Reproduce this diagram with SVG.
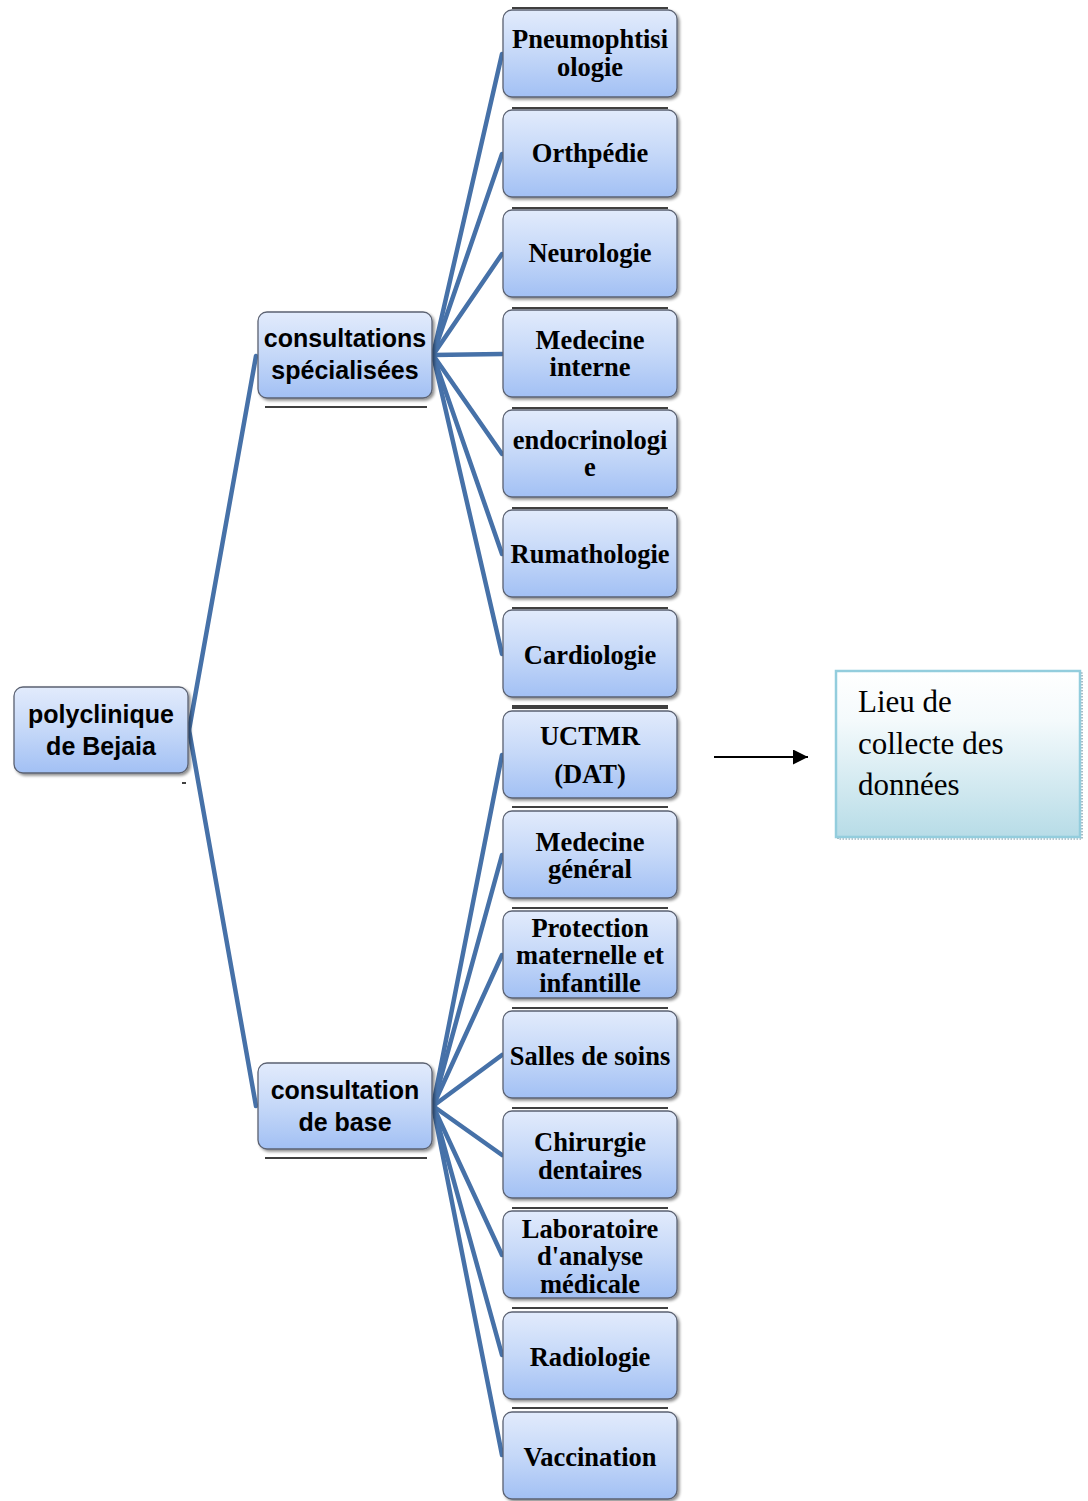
<svg xmlns="http://www.w3.org/2000/svg" width="1088" height="1501" viewBox="0 0 1088 1501">
<defs>
<linearGradient id="gb" x1="0" y1="0" x2="0" y2="1">
<stop offset="0" stop-color="#e2ebfc"/>
<stop offset="0.5" stop-color="#c5d8f8"/>
<stop offset="1" stop-color="#a2c0f4"/>
</linearGradient>
<linearGradient id="gc" x1="0" y1="0" x2="0" y2="1">
<stop offset="0" stop-color="#ffffff"/>
<stop offset="0.3" stop-color="#f4fafc"/>
<stop offset="1" stop-color="#b7dce7"/>
</linearGradient>
<filter id="sh" x="-10%" y="-10%" width="130%" height="130%">
<feGaussianBlur in="SourceAlpha" stdDeviation="1.5"/>
<feOffset dx="1.5" dy="2" result="o"/>
<feComponentTransfer><feFuncA type="linear" slope="0.45"/></feComponentTransfer>
<feMerge><feMergeNode/><feMergeNode in="SourceGraphic"/></feMerge>
</filter>
<marker id="ah" viewBox="0 0 10 10" refX="10" refY="5" markerWidth="16" markerHeight="15" markerUnits="userSpaceOnUse" orient="auto">
<path d="M0,0 L10,5 L0,10 z" fill="#000"/>
</marker>
</defs>
<style>
.box{fill:url(#gb);stroke:#5b6272;stroke-width:1.3;filter:url(#sh)}
.ts{font-family:"Liberation Serif","Times New Roman",serif;font-weight:bold;font-size:26.5px;fill:#000;text-anchor:middle}
.tn{font-family:"Liberation Sans",Arial,sans-serif;font-weight:bold;font-size:25px;fill:#000;text-anchor:middle}
.tc{font-family:"Liberation Serif","Times New Roman",serif;font-size:31px;fill:#000}
.bl{stroke:#000;stroke-width:1.5}
.cn{stroke:#4671a8;stroke-width:4.5;fill:none;stroke-linecap:round}
</style>
<rect width="1088" height="1501" fill="#fff"/>

<g id="rules">
<line class="bl" x1="512" y1="8" x2="668" y2="8"/>
<line class="bl" x1="512" y1="108" x2="668" y2="108"/>
<line class="bl" x1="512" y1="208" x2="668" y2="208"/>
<line class="bl" x1="512" y1="308" x2="668" y2="308"/>
<line class="bl" x1="512" y1="408" x2="668" y2="408"/>
<line class="bl" x1="512" y1="508" x2="668" y2="508"/>
<line class="bl" x1="512" y1="608" x2="668" y2="608"/>
<line class="bl" x1="512" y1="706" x2="668" y2="706"/>
<line class="bl" x1="512" y1="708" x2="668" y2="708"/>
<line class="bl" x1="512" y1="807" x2="668" y2="807" stroke-width="2.5"/>
<line class="bl" x1="512" y1="908" x2="668" y2="908"/>
<line class="bl" x1="512" y1="1008" x2="668" y2="1008"/>
<line class="bl" x1="512" y1="1108" x2="668" y2="1108"/>
<line class="bl" x1="512" y1="1208" x2="668" y2="1208"/>
<line class="bl" x1="512" y1="1308" x2="668" y2="1308"/>
<line class="bl" x1="512" y1="1408" x2="668" y2="1408"/>
<line class="bl" x1="265" y1="407" x2="427" y2="407"/>
<line class="bl" x1="265" y1="1158" x2="427" y2="1158"/>
<line class="bl" x1="182" y1="783" x2="186" y2="783" stroke-width="1"/>
</g>

<g id="connectors">
<line class="cn" x1="189" y1="730" x2="256" y2="356"/>
<line class="cn" x1="189" y1="730" x2="256" y2="1106"/>
<line class="cn" x1="433" y1="355" x2="502" y2="54"/>
<line class="cn" x1="433" y1="355" x2="502" y2="154"/>
<line class="cn" x1="433" y1="355" x2="502" y2="254"/>
<line class="cn" x1="433" y1="355" x2="502" y2="354"/>
<line class="cn" x1="433" y1="355" x2="502" y2="454"/>
<line class="cn" x1="433" y1="355" x2="502" y2="554"/>
<line class="cn" x1="433" y1="355" x2="502" y2="654"/>
<line class="cn" x1="433" y1="1106" x2="502" y2="755"/>
<line class="cn" x1="433" y1="1106" x2="502" y2="855"/>
<line class="cn" x1="433" y1="1106" x2="502" y2="955"/>
<line class="cn" x1="433" y1="1106" x2="502" y2="1055"/>
<line class="cn" x1="433" y1="1106" x2="502" y2="1155"/>
<line class="cn" x1="433" y1="1106" x2="502" y2="1255"/>
<line class="cn" x1="433" y1="1106" x2="502" y2="1355"/>
<line class="cn" x1="433" y1="1106" x2="502" y2="1455"/>
<line x1="714" y1="757" x2="808" y2="757" stroke="#000" stroke-width="1.8" marker-end="url(#ah)"/>
</g>

<g id="root">
<rect class="box" x="14" y="687" width="174" height="86" rx="9"/>
<text class="tn" x="101" y="723">polyclinique</text>
<text class="tn" x="101" y="755">de Bejaia</text>
</g>

<g id="specialisees">
<rect class="box" x="258" y="312" width="174" height="86" rx="9"/>
<text class="tn" x="345" y="347">consultations</text>
<text class="tn" x="345" y="379">spécialisées</text>
</g>

<g id="base">
<rect class="box" x="258" y="1063" width="174" height="86" rx="9"/>
<text class="tn" x="345" y="1099">consultation</text>
<text class="tn" x="345" y="1131">de base</text>
</g>

<g id="n1"><rect class="box" x="503" y="10" width="174" height="87" rx="9"/>
<text class="ts" x="590" y="48">Pneumophtisi</text><text class="ts" x="590" y="76">ologie</text></g>
<g id="n2"><rect class="box" x="503" y="110" width="174" height="87" rx="9"/>
<text class="ts" x="590" y="162">Orthpédie</text></g>
<g id="n3"><rect class="box" x="503" y="210" width="174" height="87" rx="9"/>
<text class="ts" x="590" y="262">Neurologie</text></g>
<g id="n4"><rect class="box" x="503" y="310" width="174" height="87" rx="9"/>
<text class="ts" x="590" y="349">Medecine</text><text class="ts" x="590" y="376">interne</text></g>
<g id="n5"><rect class="box" x="503" y="410" width="174" height="87" rx="9"/>
<text class="ts" x="590" y="449">endocrinologi</text><text class="ts" x="590" y="476">e</text></g>
<g id="n6"><rect class="box" x="503" y="510" width="174" height="87" rx="9"/>
<text class="ts" x="590" y="563">Rumathologie</text></g>
<g id="n7"><rect class="box" x="503" y="610" width="174" height="87" rx="9"/>
<text class="ts" x="590" y="664">Cardiologie</text></g>
<g id="n8"><rect class="box" x="503" y="711" width="174" height="87" rx="9"/>
<text class="ts" x="590" y="745">UCTMR</text><text class="ts" x="590" y="783">(DAT)</text></g>
<g id="n9"><rect class="box" x="503" y="811" width="174" height="87" rx="9"/>
<text class="ts" x="590" y="851">Medecine</text><text class="ts" x="590" y="878">général</text></g>
<g id="n10"><rect class="box" x="503" y="911" width="174" height="87" rx="9"/>
<text class="ts" x="590" y="937">Protection</text><text class="ts" x="590" y="964">maternelle et</text><text class="ts" x="590" y="992">infantille</text></g>
<g id="n11"><rect class="box" x="503" y="1011" width="174" height="87" rx="9"/>
<text class="ts" x="590" y="1065">Salles de soins</text></g>
<g id="n12"><rect class="box" x="503" y="1111" width="174" height="87" rx="9"/>
<text class="ts" x="590" y="1151">Chirurgie</text><text class="ts" x="590" y="1179">dentaires</text></g>
<g id="n13"><rect class="box" x="503" y="1211" width="174" height="87" rx="9"/>
<text class="ts" x="590" y="1238">Laboratoire</text><text class="ts" x="590" y="1265">d'analyse</text><text class="ts" x="590" y="1293">médicale</text></g>
<g id="n14"><rect class="box" x="503" y="1312" width="174" height="87" rx="9"/>
<text class="ts" x="590" y="1366">Radiologie</text></g>
<g id="n15"><rect class="box" x="503" y="1412" width="174" height="87" rx="9"/>
<text class="ts" x="590" y="1466">Vaccination</text></g>

<g id="note">
<rect x="838" y="673" width="244" height="166" fill="none" stroke="#6f8fa0" stroke-width="1.2" stroke-dasharray="1.5 1.5"/>
<rect x="836" y="671" width="244" height="166" fill="url(#gc)" stroke="#93cddd" stroke-width="2.5"/>
<text class="tc" x="858" y="712">Lieu de</text>
<text class="tc" x="858" y="754">collecte des</text>
<text class="tc" x="858" y="795">données</text>
</g>
</svg>
